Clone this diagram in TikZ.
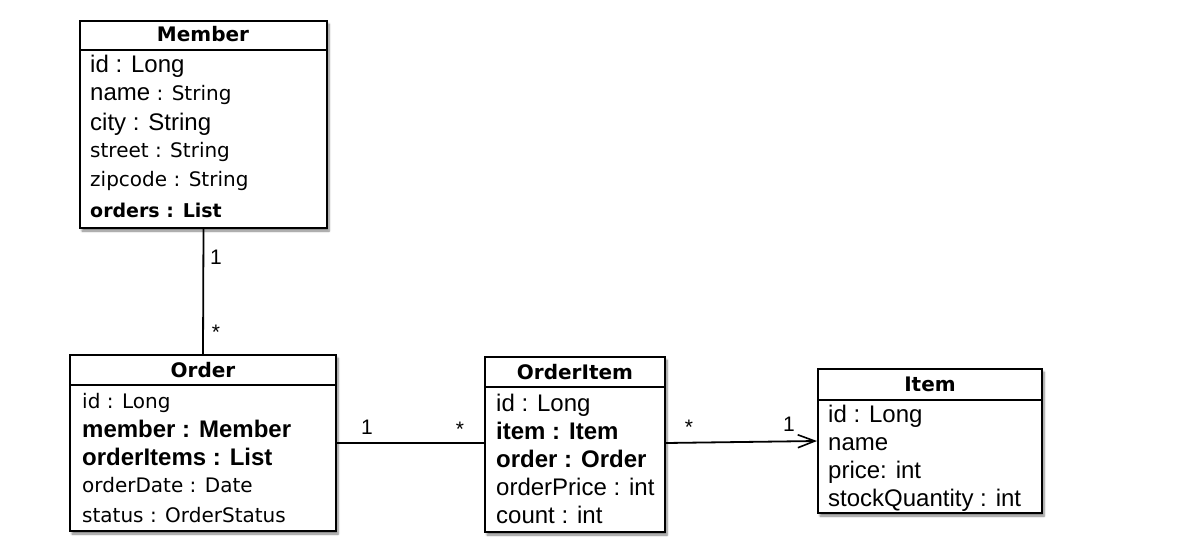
\documentclass[tikz,border=0pt]{standalone}
\usepackage{fontspec}
\setmainfont{Liberation Sans}
\newfontfamily\lucidafont{DejaVu Sans}
\usetikzlibrary{arrows.meta,shadows.blur}
\newcommand\Areg{\rmfamily\fontsize{24}{28}\selectfont}
\newcommand\Lreg{\lucidafont\fontsize{20}{24}\selectfont}
\newcommand\Ltit{\lucidafont\bfseries\fontsize{20}{24}\selectfont}
\newcommand\Lbold{\lucidafont\bfseries\fontsize{19}{24}\selectfont}
\tikzset{
  classbox/.style={draw=black, line width=2pt, fill=white, inner sep=0pt,
    blur shadow={shadow xshift=2pt, shadow yshift=-3pt, shadow blur steps=6, shadow opacity=50}},
  sepline/.style={line width=2pt},
  title/.style={anchor=base, inner sep=0pt, font=\Ltit},
  attr/.style={anchor=base west, inner sep=0pt, font=\Areg},
  conn/.style={line width=1.8pt},
  mult/.style={inner sep=0pt, font=\rmfamily\fontsize{21}{24}\selectfont},
}
\begin{document}
\begin{tikzpicture}[x=1pt,y=-1pt]
\useasboundingbox (0,0) rectangle (1194,548);
% Member
\node[classbox, minimum width=247pt, minimum height=207pt] (member) at (203.5,124.5) {};
\draw[sepline] (member.west |- 0,50) -- (member.east |- 0,50);
\node[title] (memberT) at (203,42) {Member};
\node[attr] (m1) at (90,73) {id : Long};
\node[attr] (m2) at (90,101) {name\Lreg\ : String};
\node[attr] (m3) at (90,131) {city : String};
\node[attr, font=\Lreg] (m4) at (90,158) {street : String};
\node[attr, font=\Lreg] (m5) at (90,187) {zipcode : String};
\node[attr, font=\Lbold] (m6) at (90,218) {orders : List};
% Order
\node[classbox, minimum width=266pt, minimum height=176pt] (order) at (203,443) {};
\draw[sepline] (order.west |- 0,385) -- (order.east |- 0,385);
\node[title] (orderT) at (203,377) {Order};
\node[attr, font=\Lreg] (o1) at (82,408) {id : Long};
\node[attr, font=\Areg\bfseries] (o2) at (82,437) {member : Member};
\node[attr, font=\Areg\bfseries] (o3) at (82,465) {orderItems : List};
\node[attr, font=\Lreg] (o4) at (82,492) {orderDate : Date};
\node[attr, font=\Lreg] (o5) at (82,522) {status : OrderStatus};
% OrderItem
\node[classbox, minimum width=180pt, minimum height=175pt] (orderitem) at (575,444.5) {};
\draw[sepline] (orderitem.west |- 0,387) -- (orderitem.east |- 0,387);
\node[title] (orderitemT) at (575,379) {OrderItem};
\node[attr] (i1) at (496,411) {id : Long};
\node[attr, font=\Areg\bfseries] (i2) at (496,439) {item : Item};
\node[attr, font=\Areg\bfseries] (i3) at (496,467) {order : Order};
\node[attr] (i4) at (496,495) {orderPrice : int};
\node[attr] (i5) at (496,523) {count : int};
% Item
\node[classbox, minimum width=224pt, minimum height=144pt] (item) at (930,441) {};
\draw[sepline] (item.west |- 0,400) -- (item.east |- 0,400);
\node[title] (itemT) at (930,391) {Item};
\node[attr] (t1) at (828,422) {id : Long};
\node[attr] (t2) at (828,450) {name};
\node[attr] (t3) at (828,478) {price: int};
\node[attr] (t4) at (828,506) {stockQuantity : int};
% connectors
\draw[conn] (member.south) -- (order.north);
\node[mult] (l1) at (216,257) {1};
\node[mult] (l2) at (216,332) {*};
\draw[conn] (order.east) -- (orderitem.west |- order.east);
\node[mult] (l3) at (367,427) {1};
\node[mult] (l4) at (460,429) {*};
\draw[conn, -{Straight Barb[length=17pt,width=13pt,line width=1.6pt]}] (orderitem.east |- order.east) -- (item.west);
\node[mult] (l5) at (689,427) {*};
\node[mult] (l6) at (789,424) {1};
\end{tikzpicture}
\end{document}
